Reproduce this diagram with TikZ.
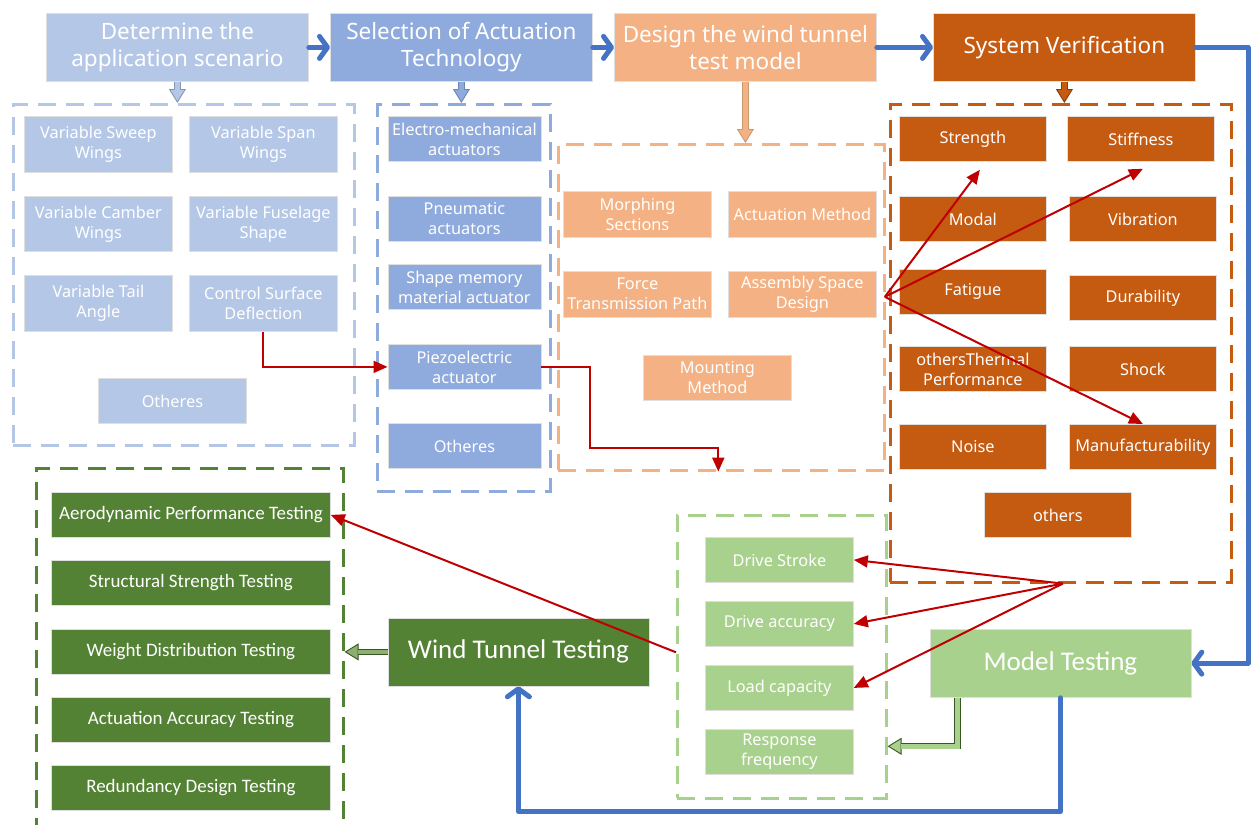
\documentclass[tikz,border=0pt]{standalone}
\usepackage{fontspec}
\setmainfont{Noto Sans}
\newfontfamily\carl{Carlito}
\usetikzlibrary{arrows.meta,calc}
\definecolor{lb}{HTML}{B4C7E7}
\definecolor{mb}{HTML}{8FAADC}
\definecolor{lo}{HTML}{F4B183}
\definecolor{do}{HTML}{C55A11}
\definecolor{lg}{HTML}{A9D18E}
\definecolor{dg}{HTML}{548235}
\definecolor{bluec}{HTML}{4472C4}
\definecolor{redc}{HTML}{C00000}
\definecolor{lbO}{HTML}{8497B0}
\definecolor{mbO}{HTML}{6F86B5}
\definecolor{loO}{HTML}{C99A72}
\definecolor{doO}{HTML}{843C0C}
\definecolor{dgO}{HTML}{385723}
\definecolor{dgF}{HTML}{8DB071}
\begin{document}
\begin{tikzpicture}[x=1pt,y=-1pt,
  box/.style={anchor=north west, draw=gray!25, line width=0.8pt, text=white, align=center,
    inner sep=0pt, font=\fontsize{16.3}{20}\selectfont},
  hdr/.style={box, font=\fontsize{22.5}{27}\selectfont},
  big/.style={box, font=\carl\fontsize{27}{31}\selectfont},
  gbox/.style={box, fill=dg, font=\carl\fontsize{19}{22}\selectfont},
  wh/.style 2 args={minimum width=#1pt, minimum height=#2pt},
  grp/.style={anchor=north west, draw=#1, line width=2.6pt, dash pattern=on 18pt off 10pt, inner sep=0pt},
  bl/.style={draw=bluec, line width=5pt, line join=round, line cap=round,
    -{Straight Barb[length=8pt,width=22pt,round]}},
  rd/.style={draw=redc, line width=2pt, -{Triangle[length=14pt,width=12pt]}},
  hhead/.style 2 args={draw=#1, line width=0.9pt, -{Triangle[length=14pt,width=17pt,fill=#2]}},
  hshaft/.style 2 args={draw=#1, double=#2, double distance=4.5pt, line width=0.9pt, shorten >=13pt}
]
\useasboundingbox (0,0) rectangle (1251,825);
\clip (0,0) rectangle (1251,825);

% groups
\node[grp=lb, wh={341}{341}] (g1) at (12,103) {};
\node[grp=mb, wh={173}{387}] (g2) at (376,103) {};
\node[grp=lo, wh={326}{326}] (g3) at (557,143) {};
\node[grp=do, wh={341}{478}] (g4) at (889,103) {};
\node[grp=lg, wh={209}{283}] (g5) at (676,514) {};
\node[grp=dg, wh={307}{380}] (g6) at (35,467) {};

% headers
\node[hdr, fill=lb, wh={262}{68}] (h1) at (46,13) {Determine the\\application scenario};
\node[hdr, fill=mb, wh={262}{68}] (h2) at (330,13) {Selection of Actuation\\Technology};
\node[hdr, fill=lo, wh={262}{68}] (h3) at (614,13) {Design the wind tunnel\\test model};
\node[hdr, fill=do, wh={262}{68}] (h4) at (933,13) {System Verification};

% group 1
\node[box, fill=lb, wh={148}{56}] (vsw) at (24,116) {Variable Sweep\\Wings};
\node[box, fill=lb, wh={148}{56}] (vsp) at (189,116) {Variable Span\\Wings};
\node[box, fill=lb, wh={148}{55}] (vca) at (24,196) {Variable Camber\\Wings};
\node[box, fill=lb, wh={148}{55}] (vfu) at (189,196) {Variable Fuselage\\Shape};
\node[box, fill=lb, wh={148}{56}] (vta) at (24,275) {Variable Tail\\Angle};
\node[box, fill=lb, wh={148}{56}] (csd) at (189,275) {Control Surface\\Deflection};
\node[box, fill=lb, wh={148}{45}] (ot1) at (98,378) {Otheres};

% group 2
\node[box, fill=mb, wh={153}{45}] (ema) at (387.5,116) {Electro-mechanical\\actuators};
\node[box, fill=mb, wh={153}{45}] (pna) at (387.5,196) {Pneumatic\\actuators};
\node[box, fill=mb, wh={153}{45}] (sma) at (387.5,264) {Shape memory\\material actuator};
\node[box, fill=mb, wh={153}{45}] (pza) at (387.5,344) {Piezoelectric\\actuator};
\node[box, fill=mb, wh={153}{45}] (ot2) at (387.5,423) {Otheres};

% group 3
\node[box, fill=lo, wh={148}{46}] (ms) at (563,190.5) {Morphing\\Sections};
\node[box, fill=lo, wh={148}{46}] (am) at (728,190.5) {Actuation Method};
\node[box, fill=lo, wh={148}{46}] (ftp) at (563,270.5) {Force\\Transmission Path};
\node[box, fill=lo, wh={148}{46}] (asd) at (728,270.5) {Assembly Space\\Design};
\node[box, fill=lo, wh={148}{45}] (mm) at (643,355) {Mounting\\Method};

% group 4
\node[box, fill=do, wh={147}{45}] (str) at (899,116) {Strength};
\node[box, fill=do, wh={147}{45}] (stf) at (1067,116) {Stiffness};
\node[box, fill=do, wh={147}{45}] (mod) at (899,196) {Modal};
\node[box, fill=do, wh={147}{45}] (vib) at (1069,196) {Vibration};
\node[box, fill=do, wh={147}{45}] (fat) at (899,269) {Fatigue};
\node[box, fill=do, wh={147}{45}] (dur) at (1069,275) {Durability};
\node[box, fill=do, wh={147}{45}] (oth) at (899,346) {othersThermal\\Performance};
\node[box, fill=do, wh={147}{45}] (shk) at (1069,346) {Shock};
\node[box, fill=do, wh={147}{45}] (noi) at (899,424) {Noise};
\node[box, fill=do, wh={147}{45}] (man) at (1069,424) {Manufacturability};
\node[box, fill=do, wh={147}{45}] (ot4) at (984,492) {others};

% group 5
\node[box, fill=lg, wh={148}{45}] (ds) at (705,537) {Drive Stroke};
\node[box, fill=lg, wh={148}{45}] (da) at (705,601) {Drive accuracy};
\node[box, fill=lg, wh={148}{45}] (lc) at (705,665) {Load capacity};
\node[box, fill=lg, wh={148}{45}] (rf) at (705,729) {Response\\frequency};

% big boxes
\node[big, fill=lg, wh={261}{68.5}] (mt) at (929.5,628.5) {Model Testing};
\node[big, fill=dg, wh={261}{68}] (wtt) at (387.5,617.5) {Wind Tunnel Testing};

% group 6
\node[gbox, wh={279}{45}] (apt) at (51,492) {Aerodynamic Performance Testing};
\node[gbox, wh={279}{45}] (sst) at (51,560) {Structural Strength Testing};
\node[gbox, wh={279}{45}] (wdt) at (51,629) {Weight Distribution Testing};
\node[gbox, wh={279}{45}] (aat) at (51,697) {Actuation Accuracy Testing};
\node[gbox, wh={279}{45}] (rdt) at (51,765) {Redundancy Design Testing};

% blue connectors
\draw[bl] (h1.east) -- (h2.west);
\draw[bl] (h2.east) -- (h3.west);
\draw[bl] (h3.east) -- (h4.west);
\coordinate (rB) at (1248,0);
\draw[bl] (h4.east) -- (h4.east -| rB) |- (mt.east);
\draw[bl] (mt.south) -- ++(0,114) -| (wtt.south);

% hollow arrows
\draw[hhead={lbO}{lb}] (h1.south) -- (h1.south |- g1.north);
\draw[hshaft={lbO}{lb}] (h1.south) -- (h1.south |- g1.north);
\draw[hhead={mbO}{mb}] (h2.south) -- (h2.south |- g2.north);
\draw[hshaft={mbO}{mb}] (h2.south) -- (h2.south |- g2.north);
\draw[hhead={loO}{lo}] (h3.south) -- (h3.south |- g3.north);
\draw[hshaft={loO}{lo}] (h3.south) -- (h3.south |- g3.north);
\draw[hhead={doO}{do}] (h4.south) -- (h4.south |- g4.north);
\draw[hshaft={doO}{do}] (h4.south) -- (h4.south |- g4.north);
\draw[hhead={dgO}{dgF}] (wtt.west) -- (wtt.west -| g6.east);
\draw[hshaft={dgO}{dgF}] (wtt.west) -- (wtt.west -| g6.east);
\coordinate (mtg) at ($(mt.south west)+(28,0)$);
\coordinate (g5t) at ($(g5.east)+(0,89.5)$);
\draw[hhead={dgO}{lg}] (mtg) |- (g5t);
\draw[hshaft={dgO}{lg}] (mtg) |- (g5t);

% red connectors
\draw[rd] (csd.south) |- (pza.west);
\draw[rd] (pza.east) -- ++(49,0) -- ++(0,81) -| ($(g3.south)+(-3,0)$);
\coordinate (fanA) at ($(asd.east)+(8,3)$);
\draw[rd] (fanA) -- ($(str.south)+(7,8)$);
\draw[rd] (fanA) -- ($(stf.south)+(2,7)$);
\draw[rd] (fanA) -- (man.north);
\coordinate (fanB) at ($(g4.south)+(2,0)$);
\draw[rd] (fanB) -- (ds.east);
\draw[rd] (fanB) -- (da.east);
\draw[rd] (fanB) -- (lc.east);
\draw[rd] ($(g5.west)+(0,-4.5)$) -- (apt.east);
\end{tikzpicture}
\end{document}
